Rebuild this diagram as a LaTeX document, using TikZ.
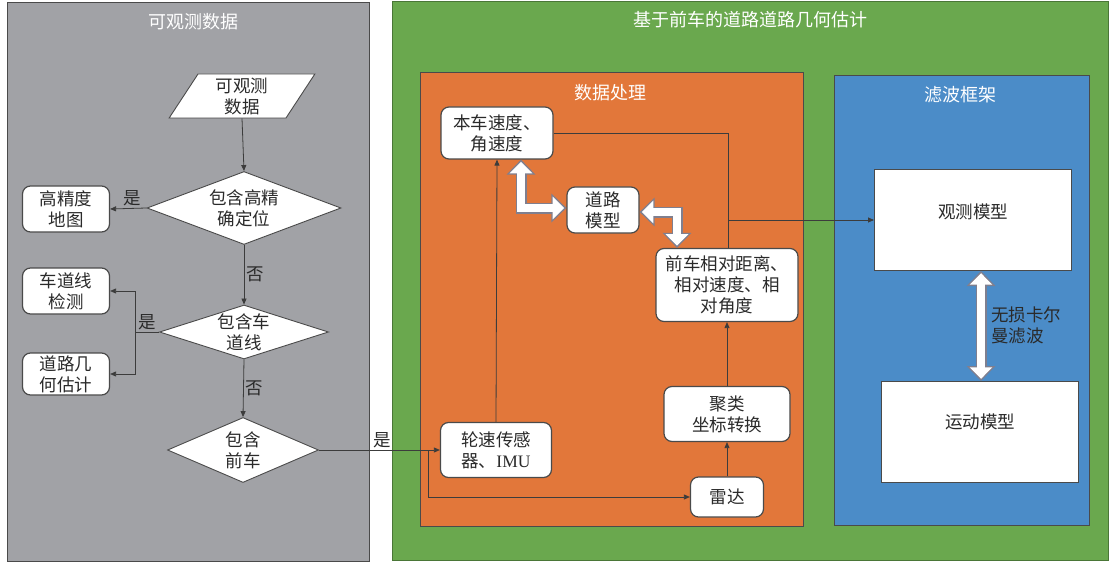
\documentclass[tikz,border=0pt]{standalone}
\usepackage{fontspec}
\setmainfont{Noto Sans CJK SC}
\newfontfamily\latinserif{Liberation Serif}
\usetikzlibrary{shapes.geometric,arrows.meta,calc}
\definecolor{panelgray}{HTML}{A1A2A6}
\definecolor{panelgreen}{HTML}{6AA84E}
\definecolor{panelorange}{HTML}{E2773A}
\definecolor{panelblue}{HTML}{4B8CC8}
\definecolor{boxline}{HTML}{4A4A4A}
\definecolor{conn}{HTML}{3C3C3C}
\definecolor{fatgray}{HTML}{7F7F8F}
\definecolor{txt}{HTML}{2A2A2A}
\newcommand\boxfont{\fontsize{17.5pt}{21pt}\selectfont}
\newcommand\titlefont{\fontsize{18pt}{22pt}\selectfont}
\begin{document}
\begin{tikzpicture}[x=1pt,y=-1pt,
  panel/.style={draw=boxline, line width=1pt},
  ptitle/.style={text=white, font=\titlefont},
  rbox/.style={draw=boxline, line width=1.2pt, fill=white, rounded corners=8pt, align=center, inner sep=1pt, font=\boxfont, text=txt},
  sbox/.style={draw=boxline, line width=1pt, fill=white, inner sep=0pt, font=\boxfont, text=txt},
  dia/.style={diamond, draw=boxline, line width=0.9pt, fill=white, inner sep=0pt},
  dlabel/.style={align=center, font=\boxfont, text=txt},
  conn/.style={draw=conn, line width=0.8pt},
  arr/.style={conn, -{Triangle[length=6pt,width=5pt]}},
  elab/.style={font=\boxfont, text=txt, inner sep=2pt},
  fat/.style={line width=11pt, draw=fatgray,
    {Triangle[length=15pt,width=28pt]}-{Triangle[length=15pt,width=28pt]},
    postaction={draw=white, line width=7.5pt, shorten <=2.2pt, shorten >=2.2pt,
      {Triangle[length=11.5pt,width=22pt]}-{Triangle[length=11.5pt,width=22pt]}}}
]
\useasboundingbox (0,0) rectangle (1110,564);
\fill[white] (0,0) rectangle (1110,564);

% panels
\draw[panel, fill=panelgray] (7,3) rectangle (369,561);
\draw[panel, fill=panelgreen, draw=panelgreen!70!black] (392,2) rectangle (1108,560);
\draw[panel, fill=panelorange] (420,73) rectangle (803,526);
\draw[panel, fill=panelblue] (834,76) rectangle (1089,525);

\node[ptitle] (t1) at (193,22) {可观测数据};
\node[ptitle] (t2) at (750,20) {基于前车的道路道路几何估计};
\node[ptitle] (t3) at (610,93) {数据处理};
\node[ptitle] (t4) at (960,95) {滤波框架};

% left flowchart
\node[trapezium, trapezium left angle=65, trapezium right angle=115, trapezium stretches=true,
      draw=boxline, line width=0.9pt, fill=white, minimum width=147pt, minimum height=44pt,
      inner sep=0pt, align=center, font=\boxfont, text=txt] (par) at (242,96) {可观测\\数据};
\node[dia, minimum width=194pt, minimum height=73pt,
      label={[dlabel]center:包含高精\\确定位}] (d1) at (244,208) {};
\node[rbox, minimum width=87pt, minimum height=46pt] (hdmap) at (66,209) {高精度\\地图};
\node[dia, minimum width=169pt, minimum height=54pt,
      label={[dlabel]center:包含车\\道线}] (d2) at (244,332) {};
\node[rbox, minimum width=87pt, minimum height=46pt] (lane) at (66,291) {车道线\\检测};
\node[rbox, minimum width=87pt, minimum height=42pt] (geo) at (66,374) {道路几\\何估计};
\node[dia, minimum width=151pt, minimum height=65pt,
      label={[dlabel]center:包含\\前车}] (d3) at (243,450) {};

\draw[arr] (par.south) -- (d1.north);
\draw[arr] (d1.west) -- node[elab, above, pos=0.4] {是} (hdmap.east);
\draw[arr] (d1.south) -- node[elab, right, pos=0.5] {否} (d2.north);
\coordinate (lb) at (135,332);
\draw[conn] (d2.west) -- node[elab, above] {是} (lb);
\draw[arr] (lb) |- (lane.east);
\draw[arr] (lb) |- (geo.east);
\draw[arr] (d2.south) -- node[elab, right, pos=0.5] {否} (d3.north);

% data processing
\node[rbox, minimum width=112pt, minimum height=52pt] (self) at (497,133) {本车速度、\\角速度};
\node[rbox, minimum width=72pt, minimum height=46pt] (road) at (603,210) {道路\\模型};
\node[rbox, minimum width=142pt, minimum height=73pt] (front) at (727,285) {前车相对距离、\\相对速度、相\\对角度};
\node[rbox, minimum width=111pt, minimum height=55pt] (wheel) at (496,450) {轮速传感\\器、{\latinserif IMU}};
\node[rbox, minimum width=126pt, minimum height=55pt] (clus) at (727,414) {聚类\\坐标转换};
\node[rbox, minimum width=73pt, minimum height=40pt] (radar) at (727,497) {雷达};

\draw[arr] (d3.east) -- node[elab, above, pos=0.52] {是} (wheel.west);
\coordinate (br) at (428,450);
\draw[arr] (br) |- (radar.west);
\draw[arr] (wheel.north) -- (self.south);
\draw[arr] (radar.north) -- (clus.south);
\draw[arr] (clus.north) -- (front.south);

% filter framework
\node[sbox, minimum width=197pt, minimum height=101pt,
      label={[font=\boxfont, text=txt, yshift=8pt]center:观测模型}] (obs) at (973,220) {};
\node[sbox, minimum width=197pt, minimum height=101pt,
      label={[font=\boxfont, text=txt, yshift=10pt]center:运动模型}] (mot) at (980,432) {};
\node[font=\boxfont, text=txt, align=left, anchor=west, inner sep=0pt] (ukf) at (991,325) {无损卡尔\\曼滤波};

\coordinate (J) at (728,220);
\draw[conn] (self.east) -| (J);
\draw[conn] (front.north -| J) -- (J);
\draw[arr] (J) -- (obs.west);

% fat double arrows
\draw[fat] ([xshift=24pt]self.south) |- ([yshift=2pt]road.west);
\draw[fat] ([yshift=-2pt]road.east) -| ([xshift=-50pt]front.north);
\draw[fat] ([xshift=8pt]obs.south) -- ([xshift=8pt]obs.south |- mot.north);
\end{tikzpicture}
\end{document}
